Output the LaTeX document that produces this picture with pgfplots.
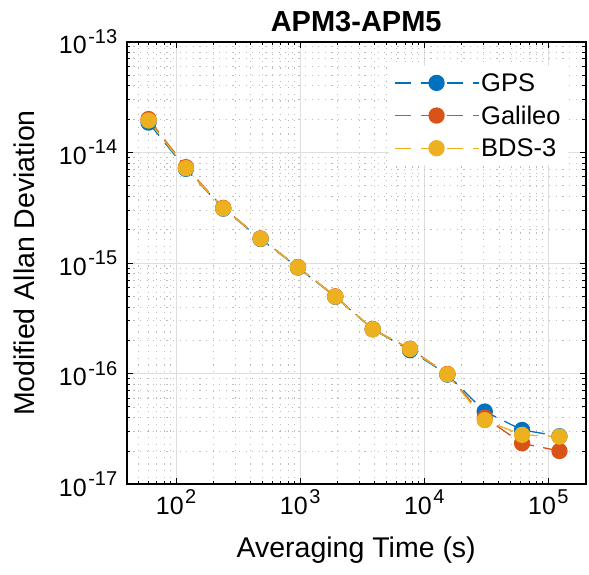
\documentclass[border=0pt]{standalone}
\usepackage{fontspec}
\setmainfont{Liberation Sans}
\usepackage{pgfplots}
\pgfplotsset{compat=1.18}
\definecolor{cgps}{rgb}{0,0.447,0.741}
\definecolor{cgal}{rgb}{0.850,0.325,0.098}
\definecolor{cbds}{rgb}{0.929,0.694,0.125}
\newcommand{\tp}[1]{10\kern1.5pt\raisebox{10.5pt}{\fontsize{20}{20}\selectfont #1}}
\begin{document}
\begin{tikzpicture}
\begin{axis}[
 scale only axis, width=459pt, height=442.6pt,
 xmode=log, ymode=log,
 xmin=40, xmax=2e5, ymin=1e-17, ymax=1e-13,
 xtick={100,1000,10000,100000},
 xticklabels={\tp{2},\tp{3},\tp{4},\tp{5}},
 ytick={1e-17,1e-16,1e-15,1e-14,1e-13},
 yticklabels={\tp{-17},\tp{-16},\tp{-15},\tp{-14},\tp{-13}},
 minor xtick={40,50,60,70,80,90,200,300,400,500,600,700,800,900,2000,3000,4000,5000,6000,7000,8000,9000,20000,30000,40000,50000,60000,70000,80000,90000,200000},
 minor ytick={2e-17,3e-17,4e-17,5e-17,6e-17,7e-17,8e-17,9e-17,2e-16,3e-16,4e-16,5e-16,6e-16,7e-16,8e-16,9e-16,2e-15,3e-15,4e-15,5e-15,6e-15,7e-15,8e-15,9e-15,2e-14,3e-14,4e-14,5e-14,6e-14,7e-14,8e-14,9e-14},
 grid=both,
 major grid style={line width=0.7pt, black!13},
 minor grid style={line width=0.9pt, black!26, dash pattern=on 1.2pt off 5.4pt},
 axis line style={line width=1.8pt},
 tick style={black, line width=1pt},
 major tick length=6pt, minor tick length=3.5pt,
 tick label style={font=\fontsize{25}{25}\selectfont},
 yticklabel style={xshift=-6pt},
 xticklabel style={yshift=-2pt},
 xlabel={Averaging Time (s)}, ylabel={Modified Allan Deviation},
 label style={font=\fontsize{28.5}{28.5}\selectfont},
 xlabel shift=15pt, ylabel shift=17pt,
 title={APM3-APM5}, title style={font=\bfseries\fontsize{29}{29}\selectfont},
 legend style={at={(0.961,0.945)}, anchor=north east, draw=none, fill=white,
   font=\fontsize{25.5}{25.5}\selectfont, row sep=9pt, inner sep=5pt},
 legend cell align=left,
 legend image code/.code={\draw[mark repeat=2,mark phase=2] plot coordinates {(0pt,0pt) (42pt,0pt) (84pt,0pt)};},
 every axis plot/.append style={line width=1.3pt, dash pattern=on 16.7pt off 9.3pt},
]
\addplot[color=cgps, mark=*, mark size=7.5pt, mark options={solid, fill=cgps, draw=cgps}]
 coordinates {(60,1.86e-14)(120,7.1e-15)(240,3.1e-15)(480,1.65e-15)(960,9.1e-16)(1920,4.95e-16)(3840,2.52e-16)(7680,1.63e-16)(15360,9.8e-17)(30720,4.55e-17)(61440,3.1e-17)(122880,2.72e-17)};
\addlegendentry{GPS}
\addplot[color=cgal, mark=*, mark size=7.5pt, mark options={solid, fill=cgal, draw=cgal}]
 coordinates {(60,2.0e-14)(120,7.35e-15)(240,3.15e-15)(480,1.67e-15)(960,9.2e-16)(1920,5.0e-16)(3840,2.53e-16)(7680,1.68e-16)(15360,9.95e-17)(30720,4.0e-17)(61440,2.35e-17)(122880,2.0e-17)};
\addlegendentry{Galileo}
\addplot[color=cbds, mark=*, mark size=7.5pt, mark options={solid, fill=cbds, draw=cbds}]
 coordinates {(60,1.94e-14)(120,7.2e-15)(240,3.12e-15)(480,1.66e-15)(960,9.15e-16)(1920,4.97e-16)(3840,2.52e-16)(7680,1.67e-16)(15360,9.87e-17)(30720,3.8e-17)(61440,2.8e-17)(122880,2.7e-17)};
\addlegendentry{BDS-3}
\end{axis}
\pgfresetboundingbox
\path ([shift={(-126.7pt,-89.7pt)}]current axis.south west) rectangle ++(589pt,574pt);
\end{tikzpicture}
\end{document}
